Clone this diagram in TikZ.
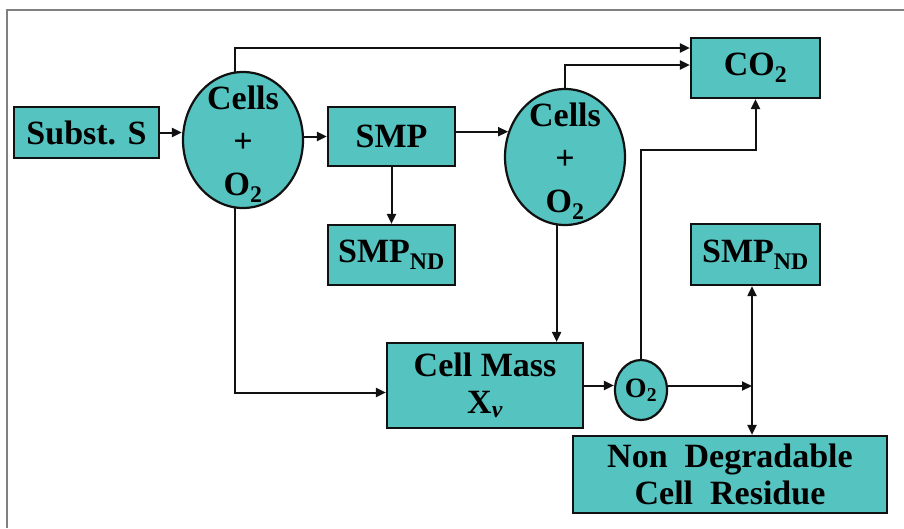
\documentclass[tikz,border=0pt]{standalone}
\usepackage{fontspec}
\setmainfont{Liberation Serif}
\usepackage{tikz}
\usepackage{xcolor}
\usetikzlibrary{shapes.geometric, arrows.meta, positioning, calc}
\definecolor{BioTeal}{HTML}{55C3BF}
\definecolor{BioBlack}{HTML}{111111}
\definecolor{BioFrame}{HTML}{808080}
\tikzset{
    % Node styles
    stagebox/.style={
        rectangle,
        draw=BioBlack,
        fill=BioTeal,
        line width=2.2pt,
        inner sep=0pt,
        align=center,
        font=\fontsize{34}{37}\selectfont\bfseries
    },
    reactor/.style={
        ellipse,
        draw=BioBlack,
        fill=BioTeal,
        line width=2.2pt,
        inner sep=0pt
    },
    reactortext/.style={
        align=center,
        inner sep=0pt,
        yshift=-4pt,
        font=\fontsize{34}{43}\selectfont\bfseries
    },
    % Arrow styles
    flowarrow/.style={
        -{Triangle[length=10pt,width=9pt]},
        line width=2pt,
        BioBlack
    },
    frameline/.style={
        draw=BioFrame,
        line width=1.2pt
    }
}
\begin{document}
\begin{tikzpicture}[x=1pt, y=-1pt]
    \useasboundingbox (0,0) rectangle (904,528);
    \draw[frameline] (7,528) -- (7,10) -- (904,10);

    % First stage
    \node[stagebox, minimum width=145pt, minimum height=51pt] (subst) at (86.5,132.5) {Subst. S};
    \node[reactor, minimum width=120pt, minimum height=136pt,
          label={[reactortext]center:Cells\\+\\O\textsubscript{2}}] (cells1) at (243,140) {};
    \node[stagebox, minimum width=127pt, minimum height=59pt] (smp) at (391.5,136.5) {SMP};
    \node[stagebox, minimum width=127pt, minimum height=60pt] (smpnd1) at (391.5,255) {SMP\textsubscript{ND}};

    % Second stage
    \node[reactor, minimum width=120pt, minimum height=136pt,
          label={[reactortext]center:Cells\\+\\O\textsubscript{2}}] (cells2) at (565,157) {};
    \node[stagebox, minimum width=129pt, minimum height=60pt] (co2) at (755.5,68) {CO\textsubscript{2}};
    \node[stagebox, minimum width=129pt, minimum height=61pt] (smpnd2) at (755.5,254.5) {SMP\textsubscript{ND}};

    % Cell mass and decay
    \node[stagebox, minimum width=196pt, minimum height=85pt] (cellmass) at (485,385.5) {Cell Mass\\X\textsubscript{\itshape v}};
    \node[reactor, minimum width=52pt, minimum height=60pt,
          label={[reactortext,yshift=4pt,font=\fontsize{28}{30}\selectfont\bfseries]center:O\textsubscript{2}}] (o2) at (641,390) {};
    \node[stagebox, minimum width=314pt, minimum height=77pt] (residue) at (730,474.5) {Non\ \ Degradable\\Cell\ \ Residue};

    \coordinate (riser) at (700,150);
    \coordinate (split) at (752,386);

    \draw[flowarrow] (subst.east) -- (subst.east -| cells1.west);
    \draw[flowarrow] (cells1.east |- smp.west) -- (smp.west);
    \draw[flowarrow] (smp.south) -- (smpnd1.north);
    \draw[flowarrow] (smp.east |- cells2.156) -- (cells2.156);
    \draw[flowarrow] (cells1.97) |- ([yshift=20pt]co2.west);
    \draw[flowarrow] (cells2.north) |- ([yshift=3pt]co2.west);
    \draw[flowarrow] (cells1.263) |- ([yshift=-7pt]cellmass.west);
    \draw[flowarrow] (cells2.263) -- (cells2.263 |- cellmass.north);
    \draw[flowarrow] (cellmass.east) -- (cellmass.east -| o2.west);
    \draw[flowarrow] (o2.north) |- (riser) -| (co2.south);
    \draw[flowarrow] (o2.east |- split) -- (split);
    \draw[flowarrow] (split) -- (split |- smpnd2.south);
    \draw[flowarrow] (split) -- (split |- residue.north);
\end{tikzpicture}
\end{document}
